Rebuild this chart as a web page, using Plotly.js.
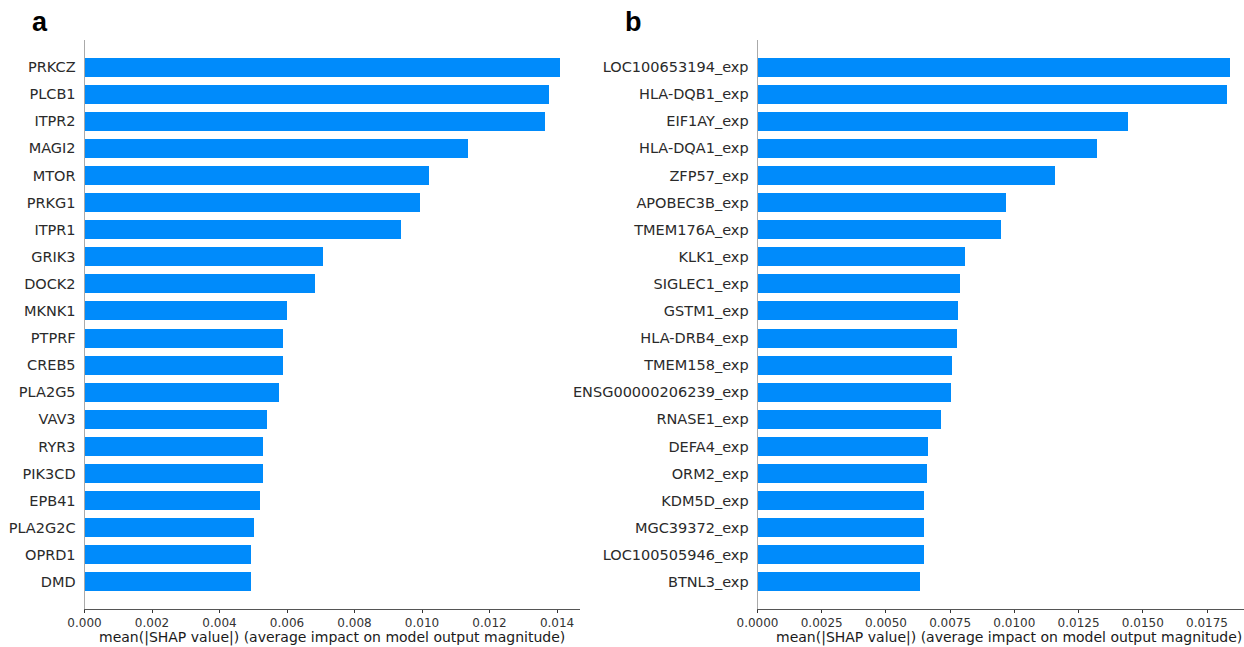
<!DOCTYPE html>
<html>
<head>
<meta charset="utf-8">
<script src="https://cdn.plot.ly/plotly-3.0.1.min.js"></script>
<style>html,body{margin:0;padding:0;background:#fff;}#chart{width:1244px;height:647px;}</style>
</head>
<body>
<div id="chart"></div>
<script>
// Panel a (top to bottom)
const genesA = ["PRKCZ","PLCB1","ITPR2","MAGI2","MTOR","PRKG1","ITPR1","GRIK3","DOCK2","MKNK1",
  "PTPRF","CREB5","PLA2G5","VAV3","RYR3","PIK3CD","EPB41","PLA2G2C","OPRD1","DMD"];
const shapA = [0.0141,0.01377,0.01363,0.01136,0.01021,0.00995,0.00937,0.00707,0.00684,0.00599,
  0.00589,0.00589,0.00576,0.0054,0.00528,0.00528,0.00521,0.00501,0.00494,0.00494];

// Panel b (top to bottom)
const genesB = ["LOC100653194_exp","HLA-DQB1_exp","EIF1AY_exp","HLA-DQA1_exp","ZFP57_exp","APOBEC3B_exp",
  "TMEM176A_exp","KLK1_exp","SIGLEC1_exp","GSTM1_exp","HLA-DRB4_exp","TMEM158_exp","ENSG00000206239_exp",
  "RNASE1_exp","DEFA4_exp","ORM2_exp","KDM5D_exp","MGC39372_exp","LOC100505946_exp","BTNL3_exp"];
const shapB = [0.01839,0.01827,0.01444,0.01321,0.01157,0.00966,0.00949,0.00807,0.00789,0.00781,
  0.00776,0.00759,0.00754,0.00715,0.00664,0.00659,0.0065,0.0065,0.0065,0.00633];

const ticksA = [0,0.002,0.004,0.006,0.008,0.010,0.012,0.014];
const tickTextA = ["0.000","0.002","0.004","0.006","0.008","0.010","0.012","0.014"];
const ticksB = [0,0.0025,0.005,0.0075,0.01,0.0125,0.015,0.0175];
const tickTextB = ["0.0000","0.0025","0.0050","0.0075","0.0100","0.0125","0.0150","0.0175"];

const xTitle = "mean(|SHAP value|) (average impact on model output magnitude)";
const W = 1244, H = 647;
const px = v => v / W, py = v => (H - v) / H;

const barColor = "#008bfb";
const traces = [
  {type:"bar", orientation:"h", x: shapA.slice().reverse(), y: genesA.slice().reverse(),
   marker:{color:barColor}, width:0.7, xaxis:"x", yaxis:"y", hoverinfo:"x+y"},
  {type:"bar", orientation:"h", x: shapB.slice().reverse(), y: genesB.slice().reverse(),
   marker:{color:barColor}, width:0.7, xaxis:"x2", yaxis:"y2", hoverinfo:"x+y"}
];

const fontFam = "DejaVu Sans, sans-serif";
const xCommon = {showgrid:false, zeroline:false, showline:true, linecolor:"#555", linewidth:1,
  ticks:"outside", ticklen:3, tickcolor:"#333", tickfont:{family:fontFam, size:12, color:"#333"}, fixedrange:true};
const yCommon = {type:"category", showgrid:false, zeroline:false, showline:true, linecolor:"#aaa", linewidth:1,
  ticks:"", range:[-1.0, 20], tickfont:{family:fontFam, size:14.5, color:"#2a2a2a"}, ticklabelstandoff:5, fixedrange:true,
  domain:[py(609), py(40)]};

const layout = {
  width:W, height:H, margin:{l:0,r:0,t:0,b:0}, paper_bgcolor:"#fff", plot_bgcolor:"#fff",
  showlegend:false, bargap:0,
  xaxis: Object.assign({}, xCommon, {domain:[px(84.5), px(580)], range:[0, 0.01468],
    tickvals:ticksA, ticktext:tickTextA, anchor:"y"}),
  yaxis: Object.assign({}, yCommon, {anchor:"x", categoryorder:"array", categoryarray:genesA.slice().reverse()}),
  xaxis2: Object.assign({}, xCommon, {domain:[px(757.5), 1], range:[0, 0.01894],
    tickvals:ticksB, ticktext:tickTextB, anchor:"y2"}),
  yaxis2: Object.assign({}, yCommon, {anchor:"x2", categoryorder:"array", categoryarray:genesB.slice().reverse()}),
  annotations:[
    {text:xTitle, xref:"paper", yref:"paper", x:px(332), y:py(646.8), xanchor:"center", yanchor:"bottom",
     showarrow:false, font:{family:fontFam, size:14, color:"#1a1a1a"}, borderpad:0},
    {text:xTitle, xref:"paper", yref:"paper", x:px(1243), y:py(646.8), xanchor:"right", yanchor:"bottom",
     showarrow:false, font:{family:fontFam, size:14, color:"#1a1a1a"}, borderpad:0},
    {text:"<b>a</b>", xref:"paper", yref:"paper", x:px(40), y:py(22), xanchor:"center", yanchor:"middle",
     showarrow:false, font:{family:"Liberation Sans, Arial, sans-serif", size:27, color:"#000"}},
    {text:"<b>b</b>", xref:"paper", yref:"paper", x:px(633), y:py(22), xanchor:"center", yanchor:"middle",
     showarrow:false, font:{family:"Liberation Sans, Arial, sans-serif", size:27, color:"#000"}}
  ]
};

Plotly.newPlot("chart", traces, layout, {displayModeBar:false, staticPlot:true});
</script>
</body>
</html>
